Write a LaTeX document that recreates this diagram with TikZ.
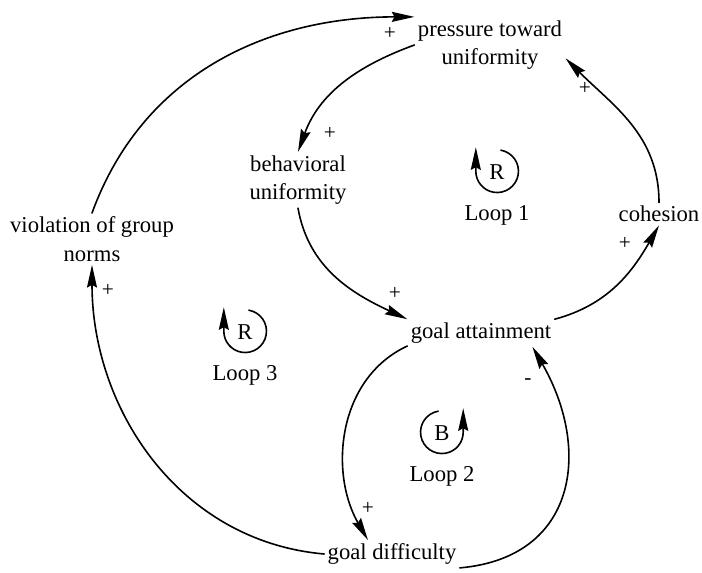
\documentclass[tikz,border=0pt]{standalone}
\usepackage{fontspec}
\setmainfont{Liberation Serif}
\usetikzlibrary{arrows.meta,positioning}
\begin{document}
\begin{tikzpicture}[x=0.75pt,y=0.75pt,line join=round,line cap=round,>={Stealth[length=17pt,width=7.5pt,inset=2pt]},line width=1.2pt]
	\tikzset{var/.style={font=\fontsize{17}{21.5}\selectfont,align=center,inner sep=2pt},
		sign/.style={font=\fontsize{16}{16}\selectfont,inner sep=0pt},
		loopsym/.style={circle,minimum size=32pt,inner sep=0pt,font=\fontsize{17}{17}\selectfont},
		looplab/.style={font=\fontsize{17}{17}\selectfont,inner sep=1pt}}
	\useasboundingbox (0,0) rectangle (702,573);
	% Các biến
	\node[var] (press) at (490,528) {pressure toward\\uniformity};
	\node[var] (beh) at (298,393) {behavioral\\uniformity};
	\node[var] (viol) at (92,334) {violation of group\\norms};
	\node[var] (coh) at (659,359) {cohesion};
	\node[var] (goalatt) at (481,240) {goal attainment};
	\node[var] (goaldiff) at (392,19) {goal difficulty};
	% Các mũi tên nhân quả
	\draw[->] (viol.north) to[out=70,in=180] (press.north west);
	\draw[->] (press.west) to[out=200,in=70] (beh.north);
	\draw[->] (beh.south) to[out=-80,in=155] (goalatt.north west);
	\draw[->] (goalatt.north east) to[out=15,in=-120] (coh.south);
	\draw[->] (coh.north) to[out=90,in=-45] (press.-10);
	\draw[->] (goalatt.190) to[out=205,in=120] (goaldiff.150);
	\draw[->] (goaldiff.south east) to[out=5,in=-60,looseness=1.3] (goalatt.-15);
	\draw[->] (goaldiff.west) to[out=175,in=-90] (viol.south);
	% Dấu của các mũi tên
	\node[sign] (s1) at (390,540) {+};
	\node[sign] (s2) at (330,440) {+};
	\node[sign] (s3) at (395,280) {+};
	\node[sign] (s4) at (625,330) {+};
	\node[sign] (s5) at (585,485) {+};
	\node[sign] (s6) at (528,191) {-};
	\node[sign] (s7) at (368,65) {+};
	\node[sign] (s8) at (108,283) {+};
	% Các vòng lặp
	\foreach \nm/\px/\py/\sym/\lab/\sa/\ea in {
		loopa/497/401/R/Loop 1/80/-180,
		loopc/245/241/R/Loop 3/80/-180,
		loopb/442/140/B/Loop 2/100/360
	}{
		\node[loopsym] (\nm) at (\px,\py) {\sym};
		\node[looplab,below=7pt of \nm] (\nm lab) {\lab};
		\draw[->] (\nm.\sa) arc[start angle=\sa,end angle=\ea,radius=16pt] -- ++(90:24);
	}
\end{tikzpicture}
\end{document}
